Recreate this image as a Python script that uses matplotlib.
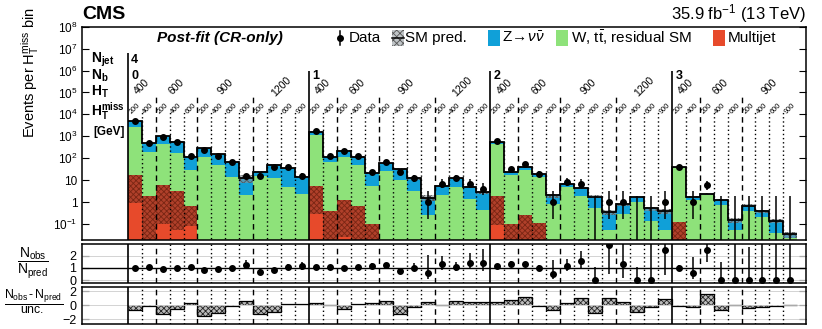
import numpy as np
import matplotlib
matplotlib.use("Agg")
import matplotlib.pyplot as plt
from matplotlib.patches import Rectangle
from matplotlib.lines import Line2D

plt.rcParams['font.family'] = ['Liberation Sans', 'DejaVu Sans']
plt.rcParams['mathtext.fontset'] = 'custom'
plt.rcParams['mathtext.rm'] = 'Liberation Sans'
plt.rcParams['mathtext.it'] = 'Liberation Sans:italic'
plt.rcParams['mathtext.bf'] = 'Liberation Sans:bold'
plt.rcParams['hatch.linewidth'] = 0.6

# binning: Nb groups -> HT blocks -> HTmiss bins
nb_labels = ['0', '1', '2', '3']
ht_labels = [['400', '600', '900', '1200'], ['400', '600', '900', '1200'],
             ['400', '600', '900', '1200'], ['400', '600', '900']]
mht_labels = {'400': ['200', '400'], '600': ['200', '400', '600'],
              '900': ['200', '400', '600', '900'], '1200': ['200', '400', '600', '900']}

# top of full stack (SM prediction)
pred_total = [4900, 480, 1020, 550, 112, 282, 148, 69, 12, 24, 48, 34, 14,
              1620, 117, 219, 117, 21, 58, 31, 12, 1.6, 5.4, 12, 4.9, 2.8,
              525, 24, 41, 20, 2.0, 6.8, 4.5, 1.74, 0.35, 0.78, 1.74, 0.51, 0.40,
              38, 1.74, 2.45, 1.23, 0.15, 0.68, 0.38, 0.14, 0.034]
# top of W/ttbar + multijet (below the Z->nunu layer)
pred_wtt = [2700, 200, 450, 180, 29, 117, 48, 14, 2.0, 16, 13, 5.0, 2.45,
            1150, 65, 117, 47, 5.4, 26, 10.7, 3.2, 0.26, 2.0, 4.9, 1.32, 0.43,
            440, 17, 29, 14, 0.78, 4.9, 1.86, 0.56, 0.052, 0.30, 1.0, 0.14, 0.052,
            37, 1.23, 2.0, 0.72, 0.052, 0.40, 0.21, 0.037, 0.022]
# multijet: upper edge and lower edge of its uncertainty
qcd_hi = [17, 1.9, 5.8, 3.2, 0.63, 0, 0, 0, 0, 0, 0, 0, 0,
          5.4, 0.41, 1.23, 0.65, 0.105, 0, 0, 0, 0, 0, 0, 0, 0,
          1.9, 0.095, 0.25, 0.115, 0, 0, 0, 0, 0, 0, 0, 0, 0,
          0.126, 0, 0, 0, 0, 0, 0, 0, 0]
qcd_lo = [0.9, 0, 0.1, 0.052, 0.08, 0, 0, 0, 0, 0, 0, 0, 0,
          0.28, 0, 0.026, 0, 0, 0, 0, 0, 0, 0, 0, 0, 0,
          0.09, 0, 0, 0, 0, 0, 0, 0, 0, 0, 0, 0, 0,
          0, 0, 0, 0, 0, 0, 0, 0, 0]
# relative uncertainty of the SM prediction
pred_unc = [0.05, 0.06, 0.05, 0.06, 0.08, 0.06, 0.07, 0.08, 0.40, 0.12, 0.10, 0.10, 0.12,
            0.05, 0.07, 0.06, 0.08, 0.10, 0.08, 0.10, 0.12, 0.30, 0.12, 0.10, 0.12, 0.15,
            0.05, 0.08, 0.08, 0.10, 0.20, 0.10, 0.12, 0.15, 0.25, 0.15, 0.12, 0.20, 0.25,
            0.06, 0.10, 0.10, 0.12, 0.25, 0.15, 0.15, 0.20, 0.30]
data_obs = [4850, 505, 900, 550, 125, 226, 130, 70, 15, 16, 41, 38, 16,
            1700, 123, 223, 129, 24, 70, 23, 12, 1, 7, 13, 7, 4,
            590, 31, 54, 20, 1, 8, 7, 0, 1, 1, 0, 0, 1,
            39, 1, 6, 0, 0, 0, 0, 0, 0]
# (Nobs - Npred) / unc.
pulls = [-0.65, -0.1, -1.2, -0.45, 0.3, -1.5, -1.1, -0.1, 0.6, -1.2, -0.95, 0.15, 0.25,
         0.35, 0.0, -0.45, 0.25, 0.3, 0.55, -1.2, -0.3, 0.5, 0.1, 0.65, 0.5, 0.5,
         0.45, 0.75, 1.2, -0.1, -0.65, 0.4, 1.0, -1.1, 1.0, 0.45, -1.0, -0.3, 0.9,
         -0.1, -0.2, 1.55, -0.65, 0.0, -0.4, -0.2, -0.1, 0.0]

c_blue = '#10a0d8'
c_green = '#8ee27a'
c_red = '#e74a2b'

pred_total = np.array(pred_total, float)
pred_wtt = np.array(pred_wtt, float)
qcd_hi = np.array(qcd_hi, float)
qcd_lo = np.array(qcd_lo, float)
pred_unc = np.array(pred_unc, float)
data_obs = np.array(data_obs, float)
pulls = np.array(pulls, float)

nbins = len(pred_total)
edges = np.arange(nbins + 1)
centers = edges[:-1] + 0.5

# walk through the binning to find separators and label positions
nb_edges, ht_edges, mht_edges = [], [], []
ht_pos, mht_pos = [], []
i = 0
for g, hts in enumerate(ht_labels):
    nb_edges.append((i, nb_labels[g]))
    for k, ht in enumerate(hts):
        n = len(mht_labels[ht])
        if k > 0:
            ht_edges.append(i)
        ht_pos.append((i + n / 2, ht))
        for j, m in enumerate(mht_labels[ht]):
            if j > 0:
                mht_edges.append(i + j)
            mht_pos.append((i + j + 0.5, m))
        i += n

floor = 1e-3
def fl(a):
    return np.where(a > 0, a, floor)

# Gehrels approximation of Poisson intervals
n = data_obs
err_hi = np.sqrt(n + 0.75) + 1.0
err_lo = np.where(n > 0, n - n * (1 - 1 / (9 * np.maximum(n, 1)) - 1 / (3 * np.sqrt(np.maximum(n, 1)))) ** 3, 0)

W, H = 822, 329
fig = plt.figure(figsize=(W / 100, H / 100), dpi=100)
left, right = 81.7 / W, 805.7 / W
ax = fig.add_axes([left, 1 - 240 / H, right - left, (240 - 26.7) / H])
axr = fig.add_axes([left, 1 - 283.3 / H, right - left, (283.3 - 244) / H])
axp = fig.add_axes([left, 1 - 324 / H, right - left, (324 - 286.7) / H])

xlim = (-3.3, 48.6)

# ---- main panel
ax.set_yscale('log')
ax.stairs(fl(pred_wtt), edges, baseline=floor, fill=True, color=c_green, lw=0)
ax.stairs(fl(qcd_hi), edges, baseline=floor, fill=True, color=c_red, lw=0)
ax.stairs(fl(qcd_hi), edges, baseline=fl(qcd_lo), fill=True, facecolor='#b0402a',
          hatch='xxxxxx', edgecolor='#7a2614', lw=0)
ax.stairs(pred_total, edges, baseline=pred_wtt, fill=True, color=c_blue, lw=0)
ax.stairs(pred_total * (1 + pred_unc), edges, baseline=pred_total * (1 - pred_unc), fill=True,
          facecolor=(0.55, 0.58, 0.6, 0.55), hatch='xxxxx', edgecolor='#555555', lw=0)
ax.stairs(pred_total, edges, baseline=None, color='k', lw=1.3)

m = data_obs > 0
ax.errorbar(centers[m], data_obs[m], yerr=[err_lo[m], err_hi[m]], fmt='o', color='k',
            ms=4, lw=1.1, capsize=0, zorder=5)
ax.vlines(centers[~m], floor, err_hi[~m], color='k', lw=1.1, zorder=5)

for k, (e, lab) in enumerate(nb_edges):
    top = 10 ** 6.8 if k == 0 else 10 ** 6.0
    ax.vlines(e, floor, top, color='k', lw=1.2, zorder=4)
    ax.text(e + 0.25, 10 ** 5.77, lab, fontsize=9, fontweight='bold', ha='left', va='center')
ax.text(0.25, 10 ** 6.48, '4', fontsize=9, fontweight='bold', ha='left', va='center')
for e in ht_edges:
    ax.vlines(e, floor, 10 ** 4.88, color='k', lw=1.0, linestyles=(0, (4, 3)), zorder=4)
for e in mht_edges:
    ax.vlines(e, floor, 10 ** 4.2, color='k', lw=1.0, linestyles=(0, (1, 2)), zorder=4)
for x, lab in ht_pos:
    ax.text(x, 10 ** 5.25, lab, fontsize=7.5, rotation=45, ha='center', va='center')
for x, lab in mht_pos:
    ax.text(x, 10 ** 4.27, lab, fontsize=5.3, rotation=45, ha='center', va='center')

lx = -2.65
ax.text(lx, 10 ** 6.5, r'$\mathbf{N}_{\mathbf{jet}}$', fontsize=10, ha='left', va='center')
ax.text(lx, 10 ** 5.75, r'$\mathbf{N}_{\mathbf{b}}$', fontsize=10, ha='left', va='center')
ax.text(lx, 10 ** 5.05, r'$\mathbf{H}_{\mathbf{T}}$', fontsize=10, ha='left', va='center')
ax.text(lx, 10 ** 4.15, r'$\mathbf{H}_{\mathbf{T}}^{\mathbf{miss}}$', fontsize=10, ha='left', va='center')
ax.text(lx + 0.2, 10 ** 3.2, '[GeV]', fontsize=8.5, fontweight='bold', ha='left', va='center')

ax.set_xlim(*xlim)
ax.set_ylim(0.0186, 1e8)
yt = [1e-1, 1, 10, 1e2, 1e3, 1e4, 1e5, 1e6, 1e7, 1e8]
ax.set_yticks(yt)
ax.set_yticklabels([r'$10^{-1}$', '1', '10'] + [r'$10^{%d}$' % p for p in range(2, 9)])
ax.yaxis.set_minor_locator(matplotlib.ticker.NullLocator())
ax.set_xticks([])
ax.tick_params(axis='y', direction='in', right=True, length=5, labelsize=8.5, pad=3)

# ---- ratio panel
ratio = data_obs / pred_total
rlo = err_lo / pred_total
rhi = err_hi / pred_total
axr.axhline(1, color='k', lw=1)
for yv in (0, 2):
    axr.axhline(yv, color='#cccccc', lw=0.6)
axr.errorbar(centers, ratio, yerr=[rlo, rhi], fmt='o', color='k', ms=4, lw=1.1, capsize=0,
             zorder=5, clip_on=True)
axr.set_ylim(-0.25, 2.95)
axr.set_yticks([0, 1, 2])

# ---- pull panel
for yv in (-2, 0, 2):
    axp.axhline(yv, color='#cccccc', lw=0.6)
axp.stairs(pulls, edges, baseline=0, fill=True, facecolor='#bbbbbb', hatch='xxxxxx',
           edgecolor='#222222', lw=0)
axp.stairs(pulls, edges, baseline=None, color='k', lw=0.9)
axp.set_ylim(-2.65, 2.65)
axp.set_yticks([-2, 0, 2])
axp.set_yticklabels(['\u22122', '0', '2'])

for a in (axr, axp):
    a.set_xlim(*xlim)
    a.set_xticks([])
    a.tick_params(axis='y', direction='in', right=True, length=5, labelsize=9, pad=4)
    for e, _ in nb_edges:
        a.axvline(e, color='k', lw=1.2)
    for e in ht_edges:
        a.axvline(e, color='k', lw=1.0, ls=(0, (4, 3)))
    for e in mht_edges:
        a.axvline(e, color='k', lw=1.0, ls=(0, (1, 2)))

for a in (ax, axr, axp):
    for s in a.spines.values():
        s.set_linewidth(1.1)

# ---- texts and legend
fig.text(82 / W, 1 - 14.5 / H, 'CMS', fontsize=14, fontweight='bold', ha='left', va='center')
fig.text(805.7 / W, 1 - 14 / H, r'35.9 fb$^{-1}$ (13 TeV)', fontsize=12, ha='right', va='center')
fig.text(30 / W, 1 - 7 / H, r'Events per H$_\mathrm{T}^\mathrm{miss}$ bin', fontsize=10.5,
         rotation=90, ha='center', va='top')
fig.text(33 / W, 1 - 263 / H, r'$\dfrac{\mathrm{N_{obs}}}{\mathrm{N_{pred}}}$', fontsize=10,
         ha='center', va='center')
fig.text(34 / W, 1 - 302 / H, r'$\dfrac{\mathrm{N_{obs}\,\text{-}\,N_{pred}}}{\mathrm{unc.}}$',
         fontsize=8.8, ha='center', va='center')

ly = 1 - 38 / H
fig.text(157 / W, ly, 'Post-fit (CR-only)', fontsize=11, fontweight='bold', style='italic',
         ha='left', va='center')
fig.add_artist(Line2D([339.5 / W] * 2, [1 - 31 / H, 1 - 45 / H], color='k', lw=1.1))
fig.add_artist(Line2D([339.5 / W], [ly], marker='o', ms=4, color='k'))
fig.text(349 / W, ly, 'Data', fontsize=11, ha='left', va='center')

pw, ph = 12 / W, 15 / H
fig.add_artist(Rectangle((392 / W, 1 - 45.5 / H), pw, ph, transform=fig.transFigure,
                         facecolor=(0.55, 0.58, 0.6, 0.55), hatch='xxxxx', edgecolor='#555555', lw=0))
fig.add_artist(Line2D([392 / W, 404 / W], [ly, ly], color='k', lw=1.1))
fig.text(405 / W, ly, 'SM pred.', fontsize=11, ha='left', va='center')
fig.add_artist(Rectangle((488 / W, 1 - 45.5 / H), pw, ph, transform=fig.transFigure,
                         facecolor=c_blue, lw=0))
fig.text(502 / W, ly, r'Z$\!\rightarrow\!\nu\bar{\nu}$', fontsize=11, ha='left', va='center')
fig.add_artist(Rectangle((556 / W, 1 - 45.5 / H), pw, ph, transform=fig.transFigure,
                         facecolor=c_green, lw=0))
fig.text(571 / W, ly, r'W, t$\bar{\mathrm{t}}$, residual SM', fontsize=11, ha='left', va='center')
fig.add_artist(Rectangle((713 / W, 1 - 45.5 / H), pw, ph, transform=fig.transFigure,
                         facecolor=c_red, lw=0))
fig.text(728 / W, ly, 'Multijet', fontsize=11, ha='left', va='center')

fig.savefig('out.png', dpi=100)
